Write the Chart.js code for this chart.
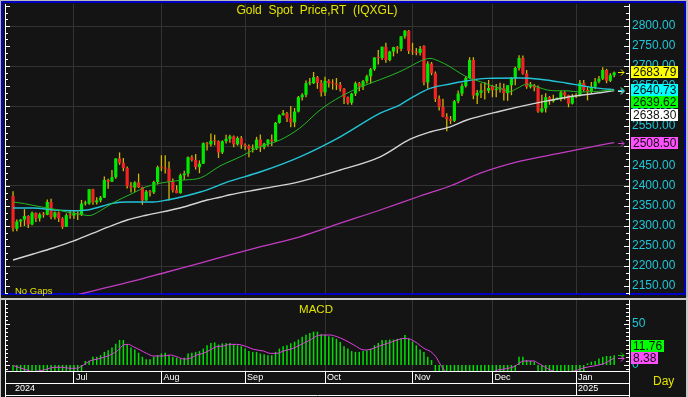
<!DOCTYPE html>
<html>
<head>
<meta charset="utf-8">
<title>Gold Spot Price,RT (IQXGL)</title>
<script src="https://cdn.jsdelivr.net/npm/chart.js@4.4.1/dist/chart.umd.min.js"></script>
<style>
  html, body { margin: 0; padding: 0; background: #141414; }
  #wrap { position: relative; width: 688px; height: 397px; overflow: hidden; }
  #wrap canvas { position: absolute; left: 0; }
  #priceChart { top: 0; }
  #macdChart { top: 297px; }
</style>
</head>
<body>
<div id="wrap">
  <canvas id="priceChart" width="688" height="297" style="width:688px;height:297px"></canvas>
  <canvas id="macdChart" width="688" height="100" style="width:688px;height:100px"></canvas>
</div>
<script>
// --- Trading days (one bar each, no gaps) ---
const days = [
  '2024-06-07','2024-06-10','2024-06-11','2024-06-12','2024-06-13','2024-06-14','2024-06-17','2024-06-18',
  '2024-06-19','2024-06-20','2024-06-21','2024-06-24','2024-06-25','2024-06-26','2024-06-27','2024-06-28',
  '2024-07-01','2024-07-02','2024-07-03','2024-07-04','2024-07-05','2024-07-08','2024-07-09','2024-07-10',
  '2024-07-11','2024-07-12','2024-07-15','2024-07-16','2024-07-17','2024-07-18','2024-07-19','2024-07-22',
  '2024-07-23','2024-07-24','2024-07-25','2024-07-26','2024-07-29','2024-07-30','2024-07-31',
  '2024-08-01','2024-08-02','2024-08-05','2024-08-06','2024-08-07','2024-08-08','2024-08-09','2024-08-12',
  '2024-08-13','2024-08-14','2024-08-15','2024-08-16','2024-08-19','2024-08-20','2024-08-21','2024-08-22',
  '2024-08-23','2024-08-26','2024-08-27','2024-08-28','2024-08-29','2024-08-30',
  '2024-09-02','2024-09-03','2024-09-04','2024-09-05','2024-09-06','2024-09-09','2024-09-10','2024-09-11',
  '2024-09-12','2024-09-13','2024-09-16','2024-09-17','2024-09-18','2024-09-19','2024-09-20','2024-09-23',
  '2024-09-24','2024-09-25','2024-09-26','2024-09-27','2024-09-30',
  '2024-10-01','2024-10-02','2024-10-03','2024-10-04','2024-10-07','2024-10-08','2024-10-09','2024-10-10',
  '2024-10-11','2024-10-14','2024-10-15','2024-10-16','2024-10-17','2024-10-18','2024-10-21','2024-10-22',
  '2024-10-23','2024-10-24','2024-10-25','2024-10-28','2024-10-29','2024-10-30','2024-10-31',
  '2024-11-01','2024-11-04','2024-11-05','2024-11-06','2024-11-07','2024-11-08','2024-11-11','2024-11-12',
  '2024-11-13','2024-11-14','2024-11-15','2024-11-18','2024-11-19','2024-11-20','2024-11-21','2024-11-22',
  '2024-11-25','2024-11-26','2024-11-27','2024-11-28','2024-11-29',
  '2024-12-02','2024-12-03','2024-12-04','2024-12-05','2024-12-06','2024-12-09','2024-12-10','2024-12-11',
  '2024-12-12','2024-12-13','2024-12-16','2024-12-17','2024-12-18','2024-12-19','2024-12-20','2024-12-23',
  '2024-12-24','2024-12-25','2024-12-26','2024-12-27','2024-12-30','2024-12-31',
  '2025-01-01','2025-01-02','2025-01-03','2025-01-06','2025-01-07','2025-01-08','2025-01-09','2025-01-10',
  '2025-01-13','2025-01-14','2025-01-15'
];

// --- OHLC ---
const opens = [
  2375,2293,2311,2316,2325,2304,2333,2319,2329,2328,2360,2322,2334,2319,2298,2327,
  2326,2332,2330,2356,2356,2392,2359,2364,2371,2415,2411,2422,2469,2458,2445,2400,2396,2409,2397,2364,2386,2384,2410,
  2447,2446,2443,2410,2390,2382,2427,2431,2472,2465,2447,2456,2507,2504,2513,2512,2484,2512,2518,2524,2504,2520,
  2503,2500,2493,2495,2516,2497,2506,2516,2512,2558,2577,2582,2569,2559,2586,2622,2628,2657,2657,2672,2658,
  2634,2663,2657,2656,2653,2643,2622,2608,2631,2657,2649,2662,2674,2692,2721,2720,2748,2715,2736,2747,2743,2774,2788,
  2738,2736,2733,2750,2659,2706,2682,2618,2598,2573,2567,2563,2612,2631,2650,2670,2715,2626,2633,2639,2638,
  2650,2640,2643,2645,2632,2652,2670,2695,2720,2681,2648,2652,2646,2586,2594,2622,2612,2618,2618,2634,2627,2606,
  2624,2627,2658,2640,2636,2648,2661,2668,2690,2663,2677
];
const highs = [
  2387,2316,2317,2342,2327,2336,2334,2333,2335,2366,2368,2336,2336,2322,2331,2339,
  2340,2336,2365,2363,2392,2393,2372,2375,2424,2418,2440,2469,2484,2470,2449,2410,2412,2431,2398,2390,2390,2413,2451,
  2477,2477,2461,2419,2402,2431,2438,2474,2477,2480,2464,2509,2510,2531,2528,2514,2514,2528,2528,2526,2524,2525,
  2506,2504,2504,2523,2529,2508,2517,2529,2560,2579,2590,2585,2600,2595,2625,2632,2664,2670,2685,2675,2665,
  2673,2667,2667,2670,2660,2645,2624,2633,2661,2660,2665,2678,2695,2722,2740,2749,2758,2738,2748,2750,2775,2790,2790,
  2758,2745,2750,2752,2712,2710,2686,2626,2618,2582,2575,2615,2639,2656,2674,2722,2722,2640,2657,2660,2665,
  2652,2655,2658,2656,2650,2672,2698,2727,2726,2690,2660,2655,2651,2628,2632,2625,2628,2621,2638,2637,2628,2630,
  2632,2665,2665,2650,2660,2670,2675,2697,2693,2682,2686
];
const lows = [
  2286,2287,2298,2300,2295,2302,2310,2311,2321,2327,2317,2316,2310,2293,2298,2318,
  2318,2315,2325,2351,2353,2353,2354,2359,2370,2393,2410,2418,2453,2437,2394,2384,2385,2395,2353,2363,2374,2380,2404,
  2437,2431,2364,2384,2382,2381,2415,2423,2461,2441,2432,2455,2489,2499,2502,2470,2480,2506,2508,2497,2501,2493,
  2490,2472,2484,2490,2485,2492,2499,2500,2510,2556,2576,2560,2547,2547,2584,2614,2622,2652,2655,2643,2624,
  2625,2646,2641,2640,2636,2605,2604,2603,2625,2637,2640,2656,2657,2688,2704,2715,2708,2712,2724,2731,2737,2768,2730,
  2728,2727,2726,2652,2643,2677,2610,2589,2572,2537,2555,2560,2607,2625,2646,2668,2617,2605,2620,2616,2632,
  2622,2622,2634,2614,2613,2627,2652,2689,2678,2643,2644,2637,2583,2583,2584,2603,2609,2615,2612,2616,2597,2604,
  2620,2624,2636,2614,2630,2642,2657,2665,2657,2660,2672
];
const closes = [
  2294,2311,2316,2325,2304,2333,2319,2329,2328,2360,2322,2334,2319,2298,2327,2326,
  2332,2330,2356,2356,2392,2359,2364,2371,2415,2411,2422,2469,2458,2445,2400,2396,2409,2397,2364,2386,2384,2410,2447,
  2446,2443,2410,2390,2382,2427,2431,2472,2465,2447,2456,2507,2504,2513,2512,2484,2512,2518,2524,2504,2520,2503,
  2500,2493,2495,2516,2497,2506,2516,2512,2558,2577,2582,2569,2559,2586,2622,2628,2657,2657,2672,2658,2634,
  2663,2657,2656,2653,2643,2622,2608,2631,2657,2649,2662,2674,2692,2721,2720,2748,2715,2736,2747,2743,2774,2788,2738,
  2736,2733,2743,2659,2706,2682,2618,2598,2573,2567,2563,2612,2631,2650,2670,2715,2626,2633,2639,2638,2645,
  2640,2643,2645,2632,2652,2670,2695,2720,2681,2648,2652,2646,2586,2594,2622,2612,2618,2618,2634,2627,2606,2624,
  2627,2658,2640,2636,2648,2661,2668,2690,2663,2677,2683.79
];

// --- Moving averages (bar index, value) read at points along each line ---
const ma20Idx = [0,3,5,9,12,14,18.4,20,22.9,26.3,31.5,35,40.5,45,49.2,54.4,59.7,64.9,70.2,75.4,80.7,86,91.2,96.5,
  101.7,105,107,109.6,112,114.9,117.5,120.1,122.8,125.4,128,130.6,132.5,135.1,137.7,140.4,143,145.6,149,152.5,156.2,158];
const ma20 = [2360,2356,2352,2345,2340,2335,2328,2326,2338,2358,2382,2398,2410,2415,2420,2450,2473,2498,2515,2545,2590,2623,2647,2666,
  2686,2702,2712,2719,2712,2698,2682,2669,2661,2652,2644,2636,2644,2655,2648,2640,2638,2638,2635,2636,2639,2639.62];

const ma50Idx = [0,5.3,10.5,15.8,19.5,22.9,26.3,30,36.8,40.5,49.2,57,64.9,75.4,86,96.5,101.7,105,109.6,114.9,117.5,
  124.6,133.3,138.5,145.6,150,154.3,158];
const ma50 = [2345,2345,2340,2338,2340,2348,2357,2360,2360,2365,2385,2412,2435,2473,2523,2582,2603,2622,2644,2655,2660,
  2669,2670,2667,2657,2650,2644,2640.73];

const ma100Idx = [0,5.3,10.5,15.8,21,26.3,30,35,43.9,51,54.4,57,64.9,75.4,86,96.5,104.4,109.6,114.9,119.3,128,136.8,
  145.6,154.3,158];
const ma100 = [2215,2230,2245,2262,2282,2302,2315,2327,2345,2365,2372,2378,2392,2411,2440,2473,2517,2535,2548,2565,2587,2606,
  2622,2633,2638.30];

const ma200Idx = [0,16.8,22.9,31.5,40.5,49.2,57,64.9,75.4,86,96.5,107,114.9,122.8,133.3,143.8,149,154.3,158];
const ma200 = [2089,2128,2142,2162,2185,2207,2228,2248,2273,2307,2340,2375,2400,2432,2462,2482,2492,2502,2508.50];

// --- MACD line (bars) and signal line ---
const macd = [
  -9,-10,-11,-11,-12,-12,-12,-11,-11,-10,-10,-10,-9,-10,-9,-9,-8,-8,-8,
  4.9,5.3,10,10,12,16,18,21.5,26,30.5,30.5,25,21.5,19,15,10,7,7,10,12,14,15,12,10,9,7.3,9,14,15,16,17,20,24,27,27.6,
  25,26.4,26.4,27,25,24,23,20,17,16,16,14,13,12,12,16,20,23,24,26.4,28.5,31,34.5,37,39,40.7,40.7,37.4,36.6,35,34,32,28,
  23,20,17,16,16,17,18,20,24,27,30.5,30.5,31,31,32,32.5,36.6,32.5,28.5,24,19,16,10,6,
  -9,-14,-18,-22,-24,-24,-22,-20,-17,-14,-12,-12,-11,-10,-10,-9,-9,-9,-9,-9,-8,-8,
  10,10,6,5,4,
  -8,-9,-10,-11,-11,-11,-10,-10,-10,-9,-9,-8,-8,
  2,4,5,8,10,11,11,11.76
];
const signalIdx = [0,3.6,5.3,8,11,12.8,15,16.7,18.5,20.2,22.9,25.5,27.7,29,30.3,31.6,33.4,35.1,36.9,39.5,41.3,43,44.8,
  46.5,48.3,50,51.8,53.5,55.3,57,58.8,61.4,63.2,65.8,67.6,69.3,71.1,72.8,74.6,76.3,78.1,79.8,81.6,83.3,85.1,87,89.6,
  92.3,94,95.8,98.4,101,102.8,104.5,106.3,108,109.8,111.1,112.4,113.3,118,124,127.3,129.1,131.7,134.3,137,137.8,139.6,
  141.3,144,148.4,150.1,152.7,155.4,157.1,158];
const signal = [-0.5,-6.1,-8,-6.1,-2.8,-2.8,-4,-4,0,4.9,8.1,12.2,18.3,24.4,25.2,22.4,18.3,14.2,11,11,12.2,10.2,7.3,
  8.1,12.2,14.2,18.3,22.4,23.2,25.2,25.2,22.4,19.1,17.1,14.2,14.2,17.1,19.1,22.4,26.4,30.5,35.4,36.6,36.6,34.6,31,24.4,
  18.3,19.1,22.4,26.4,30.5,32.5,31.3,26.4,20.3,16.3,10.2,0,-6.1,-16,-14,-6.1,-4.9,-2,4.9,4.9,2.8,-2,
  -6.1,-10,-6.1,-3.3,-1.2,2,6.1,8.38];

// --- Axis labels ---
const priceTicks = [2150,2200,2250,2300,2350,2400,2450,2500,2550,2600,2650,2700,2750,2800];
const macdTicks = [0, 50];
const monthNames = ['Jan','Feb','Mar','Apr','May','Jun','Jul','Aug','Sep','Oct','Nov','Dec'];

const monthIdx = [], monthLabels = [], yearIdx = [0], yearLabels = [days[0].slice(0, 4)];
for (let i = 1; i < days.length; i++) {
    if (days[i].slice(5, 7) !== days[i - 1].slice(5, 7)) {
        monthIdx.push(i);
        monthLabels.push(monthNames[+days[i].slice(5, 7) - 1]);
    }
    if (days[i].slice(0, 4) !== days[i - 1].slice(0, 4)) {
        yearIdx.push(i);
        yearLabels.push(days[i].slice(0, 4));
    }
}

// --- Look ---
const BG = '#141414';
const GRID = '#333333';
const AXIS_TXT = '#1fc6d8';
const YELLOW = '#e4e400';
const UP = '#00ea00';
const DOWN = '#f42222';
const WICK = '#d2b600';
const FONT = '"Liberation Sans", Arial, sans-serif';
const X_MIN = -1.85, X_MAX = 161.9;

const pts = (idx, vals) => idx.map((x, k) => ({ x, y: vals[k] }));
const last = arr => arr[arr.length - 1];
const noPad = s => { s.paddingTop = 0; s.paddingBottom = 0; s.paddingLeft = 0; s.paddingRight = 0; };

function arrow(c, x, y, color) {
    y = Math.round(y) + 0.5;
    c.strokeStyle = color;
    c.lineWidth = 1;
    c.beginPath();
    c.moveTo(x - 3, y); c.lineTo(x + 3, y);
    c.moveTo(x, y - 3); c.lineTo(x + 3, y); c.lineTo(x, y + 3);
    c.stroke();
}

function valueBox(c, txt, x, yc, bg) {
    c.font = `12px ${FONT}`;
    const w = Math.ceil(c.measureText(txt).width) + 3;
    const top = Math.round(yc - 6);
    c.fillStyle = bg;
    c.fillRect(x, top, w, 12);
    c.fillStyle = '#101010';
    c.textAlign = 'left';
    c.textBaseline = 'middle';
    c.fillText(txt, x + 2, top + 6.5);
}

function sideTicks(c, scale, area, from, to, step, isMajor) {
    c.strokeStyle = '#ffffff';
    c.lineWidth = 1;
    c.beginPath();
    for (let k = 0; from + k * step <= to; k++) {
        const v = from + k * step;
        const py = Math.round(scale.getPixelForValue(v)) + 0.5;
        if (py < area.top || py > area.bottom) continue;
        const len = isMajor(k) ? 5 : 3;
        c.moveTo(5, py); c.lineTo(5 + len, py);
        c.moveTo(629, py); c.lineTo(629 - len, py);
    }
    c.stroke();
}

// --- Frames, tick marks, titles and value flags of the price panel ---
const priceDecor = {
    id: 'priceDecor',
    beforeDraw(chart) {
        const c = chart.ctx;
        c.save();
        c.fillStyle = BG;
        c.fillRect(0, 0, chart.width, chart.height);
        c.fillStyle = '#b8b8b8';
        c.fillRect(0, 0, chart.width, 1);
        c.fillRect(0, 0, 1, chart.height);
        c.fillRect(686, 0, 2, chart.height);
        c.strokeStyle = '#0000c4';
        c.lineWidth = 2;
        c.strokeRect(2, 2, 683, 292);
        c.restore();
    },
    afterDraw(chart) {
        const c = chart.ctx, y = chart.scales.y, area = chart.chartArea;
        c.save();
        c.strokeStyle = '#ffffff';
        c.lineWidth = 1;
        c.beginPath();
        c.moveTo(5.5, area.top); c.lineTo(5.5, area.bottom);
        c.stroke();
        sideTicks(c, y, area, 2100, 2900, 50 / 3, k => k % 3 === 0);

        c.fillStyle = YELLOW;
        c.font = `12px ${FONT}`;
        c.textAlign = 'center';
        c.textBaseline = 'middle';
        c.fillText('Gold  Spot  Price,RT  (IQXGL)', 317, 11);
        c.font = `9.5px ${FONT}`;
        c.textAlign = 'left';
        c.fillText('No Gaps', 15, 291);

        const flags = [
            { v: last(ma200), color: '#c43cc4', bg: '#ff50ff' },
            { v: last(ma100), color: '#dcdcdc', bg: '#ffffff' },
            { v: last(ma20), color: '#22c022', bg: '#00ff00' },
            { v: last(ma50), color: '#22c8d8', bg: '#00ffff' },
            { v: last(closes), color: '#e8e800', bg: '#ffff00' }
        ];
        flags.forEach(f => arrow(c, 621, y.getPixelForValue(f.v), f.color));
        // highest value first, later boxes pushed down when they would overlap
        const order = flags.slice().sort((a, b) => b.v - a.v);
        let prev = -Infinity;
        order.forEach(f => {
            const yc = Math.max(y.getPixelForValue(f.v), prev + 12.5);
            valueBox(c, f.v.toFixed(2), 631, yc, f.bg);
            prev = yc;
        });
        c.restore();
    }
};

// --- Frames, labels and flags of the MACD panel ---
const macdDecor = {
    id: 'macdDecor',
    beforeDraw(chart) {
        const c = chart.ctx;
        c.save();
        c.fillStyle = BG;
        c.fillRect(0, 0, chart.width, chart.height);
        c.fillStyle = '#c8c8c8';
        c.fillRect(0, 1, chart.width, 2);
        c.fillRect(0, 0, 1, chart.height);
        c.fillRect(686, 0, 2, chart.height);
        c.restore();
    },
    afterDraw(chart) {
        const c = chart.ctx, y = chart.scales.y, area = chart.chartArea;
        c.save();
        c.strokeStyle = '#ffffff';
        c.lineWidth = 1;
        c.beginPath();
        c.moveTo(5.5, area.top); c.lineTo(5.5, chart.height);
        c.moveTo(629.5, area.bottom); c.lineTo(629.5, chart.height);
        c.moveTo(5, 98.5); c.lineTo(630, 98.5);
        c.stroke();
        sideTicks(c, y, area, -5, 80, 5, k => k === 1 || k === 11);

        c.fillStyle = YELLOW;
        c.font = `11.5px ${FONT}`;
        c.textAlign = 'center';
        c.textBaseline = 'middle';
        c.fillText('MACD', 316, 13);
        c.font = `12px ${FONT}`;
        c.textAlign = 'left';
        c.fillText('Day', 653, 85);

        const sigY = y.getPixelForValue(last(signal));
        const macdY = Math.min(y.getPixelForValue(last(macd)), sigY - 12.5);
        arrow(c, 621, y.getPixelForValue(last(macd)), '#00d000');
        arrow(c, 621, sigY, '#e040e0');
        valueBox(c, last(macd).toFixed(2), 631, macdY, '#00ff00');
        valueBox(c, last(signal).toFixed(2), 631, sigY, '#ff50ff');
        c.restore();
    }
};

const baseOpts = {
    responsive: false,
    animation: false,
    devicePixelRatio: 1,
    events: [],
    plugins: { legend: { display: false }, tooltip: { enabled: false } }
};

// --- Price panel ---
new Chart(document.getElementById('priceChart'), {
    type: 'bar',
    data: {
        datasets: [
            { type: 'line', data: pts(ma20Idx, ma20), borderColor: '#22b822', borderWidth: 1, pointRadius: 0, cubicInterpolationMode: 'monotone', order: 0 },
            { type: 'line', data: pts(ma50Idx, ma50), borderColor: '#22c4d6', borderWidth: 1.4, pointRadius: 0, cubicInterpolationMode: 'monotone', order: 0 },
            { type: 'line', data: pts(ma100Idx, ma100), borderColor: '#d4d4d4', borderWidth: 1.4, pointRadius: 0, cubicInterpolationMode: 'monotone', order: 0 },
            { type: 'line', data: pts(ma200Idx, ma200), borderColor: '#c23cc2', borderWidth: 1.3, pointRadius: 0, cubicInterpolationMode: 'monotone', order: 0 },
            {
                type: 'bar',
                data: days.map((d, i) => ({ x: i, y: [opens[i], closes[i]] })),
                backgroundColor: ctx => closes[ctx.dataIndex] >= opens[ctx.dataIndex] ? UP : DOWN,
                barThickness: 3.2, minBarLength: 1, grouped: false, inflateAmount: 0, order: 1
            },
            {
                type: 'bar',
                data: days.map((d, i) => ({ x: i, y: [lows[i], highs[i]] })),
                backgroundColor: WICK,
                barThickness: 1.3, grouped: false, inflateAmount: 0, order: 2
            }
        ]
    },
    options: {
        ...baseOpts,
        layout: { autoPadding: false, padding: { left: 6, top: 4, right: 0, bottom: 3 } },
        scales: {
            x: {
                type: 'linear', min: X_MIN, max: X_MAX, offset: false,
                afterBuildTicks: s => { s.ticks = monthIdx.map(v => ({ value: v })); },
                afterFit: s => { s.height = 0; noPad(s); },
                ticks: { display: false, autoSkip: false },
                grid: { offset: false, color: GRID, drawTicks: false },
                border: { display: false }
            },
            y: {
                position: 'right', min: 2130, max: 2855,
                afterBuildTicks: s => { s.ticks = priceTicks.map(v => ({ value: v })); },
                afterFit: s => { s.width = 59; noPad(s); },
                ticks: { padding: 3, color: AXIS_TXT, font: { size: 12, family: FONT }, callback: v => v.toFixed(2) },
                grid: { color: ctx => (ctx.tick && ctx.tick.value % 100 === 0) ? GRID : 'rgba(0,0,0,0)', drawTicks: false },
                border: { color: '#ffffff' }
            }
        }
    },
    plugins: [priceDecor]
});

// --- MACD panel ---
new Chart(document.getElementById('macdChart'), {
    type: 'bar',
    data: {
        datasets: [
            { type: 'line', data: pts(signalIdx, signal), borderColor: '#e040e0', borderWidth: 1, pointRadius: 0, cubicInterpolationMode: 'monotone', order: 0 },
            {
                type: 'bar',
                data: macd.map((v, i) => ({ x: i, y: v })),
                backgroundColor: '#00e000',
                barThickness: 1.5, grouped: false, inflateAmount: 0, order: 1
            }
        ]
    },
    options: {
        ...baseOpts,
        layout: { autoPadding: false, padding: { left: 6, top: 3, right: 0, bottom: 1 } },
        scales: {
            x: {
                type: 'linear', position: 'bottom', min: X_MIN, max: X_MAX, offset: false, weight: 0,
                afterBuildTicks: s => { s.ticks = monthIdx.map(v => ({ value: v })); },
                afterFit: s => { s.height = 12; noPad(s); },
                ticks: {
                    autoSkip: false, maxRotation: 0, align: 'start', labelOffset: 2, padding: -11,
                    color: '#ffffff', font: { size: 9, family: FONT },
                    callback: (v, i) => monthLabels[i]
                },
                grid: { offset: false, color: GRID, tickColor: '#ffffff', tickLength: 12 },
                border: { color: '#ffffff' }
            },
            x2: {
                type: 'linear', position: 'bottom', min: X_MIN, max: X_MAX, offset: false, weight: 1,
                afterBuildTicks: s => { s.ticks = yearIdx.map(v => ({ value: v })); },
                afterFit: s => { s.height = 13; noPad(s); },
                ticks: {
                    autoSkip: false, maxRotation: 0, align: 'start', labelOffset: 2, padding: -12.5,
                    color: '#ffffff', font: { size: 9, family: FONT },
                    callback: (v, i) => yearLabels[i]
                },
                grid: {
                    offset: false, drawOnChartArea: false, tickLength: 13,
                    tickColor: ctx => ctx.index === 0 ? 'rgba(0,0,0,0)' : '#ffffff'
                },
                border: { color: '#ffffff' }
            },
            y: {
                position: 'right', min: -7.3, max: 79.3,
                afterBuildTicks: s => { s.ticks = macdTicks.map(v => ({ value: v })); },
                afterFit: s => { s.width = 59; noPad(s); },
                ticks: { padding: 3, color: AXIS_TXT, font: { size: 12, family: FONT }, callback: v => String(v) },
                grid: { display: false, drawTicks: false },
                border: { color: '#ffffff' }
            }
        }
    },
    plugins: [macdDecor]
});
</script>
</body>
</html>
